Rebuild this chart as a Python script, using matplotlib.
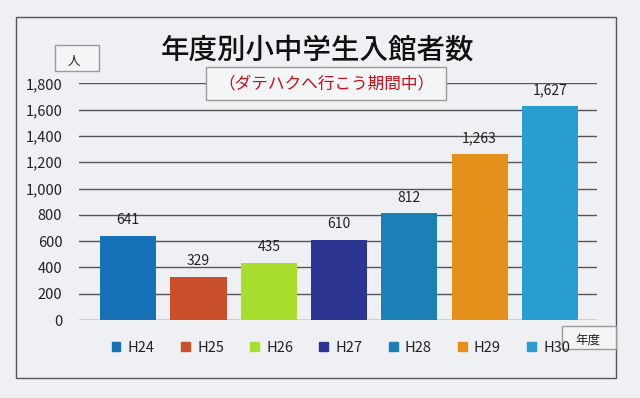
import matplotlib
matplotlib.use("Agg")
import matplotlib.pyplot as plt
from matplotlib.patches import Rectangle

plt.rcParams['font.family'] = ['Noto Sans CJK JP', 'DejaVu Sans']

years = ['H24', 'H25', 'H26', 'H27', 'H28', 'H29', 'H30']
visitors = [641, 329, 435, 610, 812, 1263, 1627]
bar_colors = ['#1670b6', '#c9502a', '#a8de2e', '#2c3592', '#1b80b6', '#e6901c', '#2a9dd0']
yticks = [0, 200, 400, 600, 800, 1000, 1200, 1400, 1600, 1800]

W, H = 640, 398
fig = plt.figure(figsize=(6.4, 3.98), dpi=100, facecolor='#eef0f3')


def px_box(x0, y0, x1, y1, **kw):
    # rectangle given in picture pixels (top-left origin)
    r = Rectangle((x0 / W, 1 - y1 / H), (x1 - x0) / W, (y1 - y0) / H,
                  transform=fig.transFigure, **kw)
    fig.patches.append(r)
    return r


# outer frame of the chart area
px_box(16, 17, 616, 378, fill=False, edgecolor='#555555', linewidth=1.0)

ax = fig.add_axes([79 / W, 1 - 320 / H, (597 - 79) / W, (320 - 83.3) / H])
ax.set_facecolor('none')

x = list(range(len(years)))
bars = ax.bar(x, visitors, width=0.8, color=bar_colors, zorder=3)
ax.bar_label(bars, labels=[f'{v:,}' for v in visitors], padding=6,
             fontsize=10, color='#222222')

ax.set_xlim(-0.7, 6.67)
ax.set_ylim(0, 1800)
ax.set_yticks(yticks)
ax.set_yticklabels([f'{v:,}' for v in yticks], fontsize=10.5, color='#222222')
ax.tick_params(axis='y', length=0, pad=12)
ax.set_xticks([])
ax.grid(axis='y', color='#555555', linewidth=1.0, zorder=0)
for s in ax.spines.values():
    s.set_visible(False)

handles = [Rectangle((0, 0), 1, 1, color=c) for c in bar_colors]
leg = fig.legend(handles, years, loc='center', bbox_to_anchor=(341 / W, 1 - 348 / H),
                 ncol=7, frameon=False, fontsize=10.5, handlelength=0.6,
                 handleheight=0.6, handletextpad=0.5, columnspacing=1.8)
for t in leg.get_texts():
    t.set_color('#222222')

fig.text(317 / W, 1 - 50 / H, '年度別小中学生入館者数', ha='center', va='center',
         fontsize=20.5, fontweight='medium', color='#111111')

# subtitle box
px_box(206, 67, 446, 100, facecolor='#f4f5f7', edgecolor='#9a9a9a',
       linewidth=1.0, zorder=5)
fig.text(326 / W, 1 - 84 / H, '（ダテハクへ行こう期間中）', ha='center', va='center',
         fontsize=12, color='#c8101a', zorder=6)

# unit boxes
px_box(55, 45, 99, 71, facecolor='#f4f5f7', edgecolor='#9a9a9a',
       linewidth=1.0, zorder=5)
fig.text(74 / W, 1 - 61 / H, '人', ha='center', va='center', fontsize=9,
         color='#222222', zorder=6)
px_box(562, 326, 616, 349, facecolor='#f4f5f7', edgecolor='#9a9a9a',
       linewidth=1.0, zorder=5)
fig.text(588 / W, 1 - 340 / H, '年度', ha='center', va='center', fontsize=9,
         color='#222222', zorder=6)

fig.savefig('out.png', dpi=100, facecolor=fig.get_facecolor())
plt.close(fig)
